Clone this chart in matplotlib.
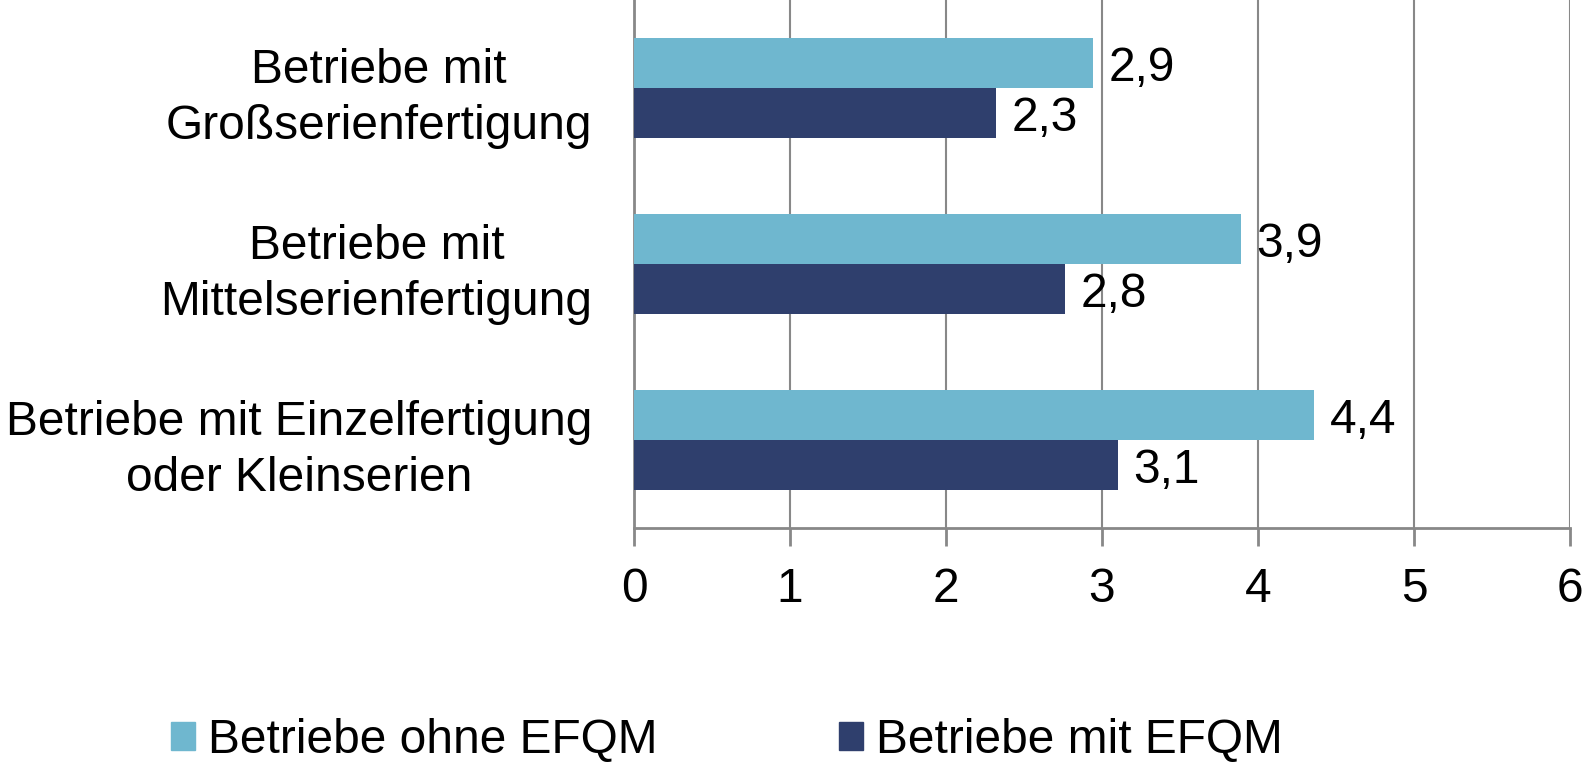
import matplotlib
matplotlib.use("Agg")
import matplotlib.pyplot as plt
import numpy as np
from matplotlib.patches import Patch

plt.rcParams["font.family"] = ["Liberation Sans", "DejaVu Sans"]

categories = [
    "Betriebe mit\nGroßserienfertigung",
    "Betriebe mit\nMittelserienfertigung",
    "Betriebe mit Einzelfertigung\noder Kleinserien",
]
ohne_efqm = [2.94, 3.89, 4.36]
mit_efqm = [2.32, 2.76, 3.10]
series_names = ["Betriebe ohne EFQM", "Betriebe mit EFQM"]
colors = ["#6FB7CF", "#2F3F6D"]
xticks = [0, 1, 2, 3, 4, 5, 6]

FS = 34.5

fig = plt.figure(figsize=(15.85, 7.62), dpi=100)
ax = fig.add_axes([0.4, 0.307, 0.5905, 0.693])

y = np.arange(len(categories))
h = 0.284
bars1 = ax.barh(y - h / 2, ohne_efqm, height=h, color=colors[0], zorder=3)
bars2 = ax.barh(y + h / 2, mit_efqm, height=h, color=colors[1], zorder=3)

# value labels, German decimal comma
for bars, vals in [(bars1, ohne_efqm), (bars2, mit_efqm)]:
    for b, v in zip(bars, vals):
        ax.text(v + 0.1, b.get_y() + b.get_height() / 2 + 0.03, f"{v:.1f}".replace(".", ","),
                va="center", ha="left", fontsize=FS)

ax.set_xlim(0, 6)
ax.set_ylim(len(categories) - 0.5, -0.5)
ax.set_xticks(xticks)
ax.set_xticklabels([str(t) for t in xticks], fontsize=FS)
ax.set_yticks(y)
ax.set_yticklabels(categories, fontsize=FS, multialignment="center", linespacing=1.32)
ax.tick_params(axis="y", length=0, pad=30)
ax.tick_params(axis="x", length=13, width=2, color="#888888", pad=15)

ax.grid(True, axis="x", color="#888888", linewidth=1.5, zorder=0)
for s in ["top", "right"]:
    ax.spines[s].set_visible(False)
for s in ["left", "bottom"]:
    ax.spines[s].set_color("#888888")
    ax.spines[s].set_linewidth(2)

handles = [Patch(color=c) for c in colors]
fig.legend(handles, series_names, loc="center left", bbox_to_anchor=(0.096, 0.028),
           ncol=2, frameon=False, fontsize=FS, handlelength=0.5, handleheight=0.5,
           handletextpad=0.27, columnspacing=3.78, borderaxespad=0)

fig.savefig("out.png", facecolor="white")
